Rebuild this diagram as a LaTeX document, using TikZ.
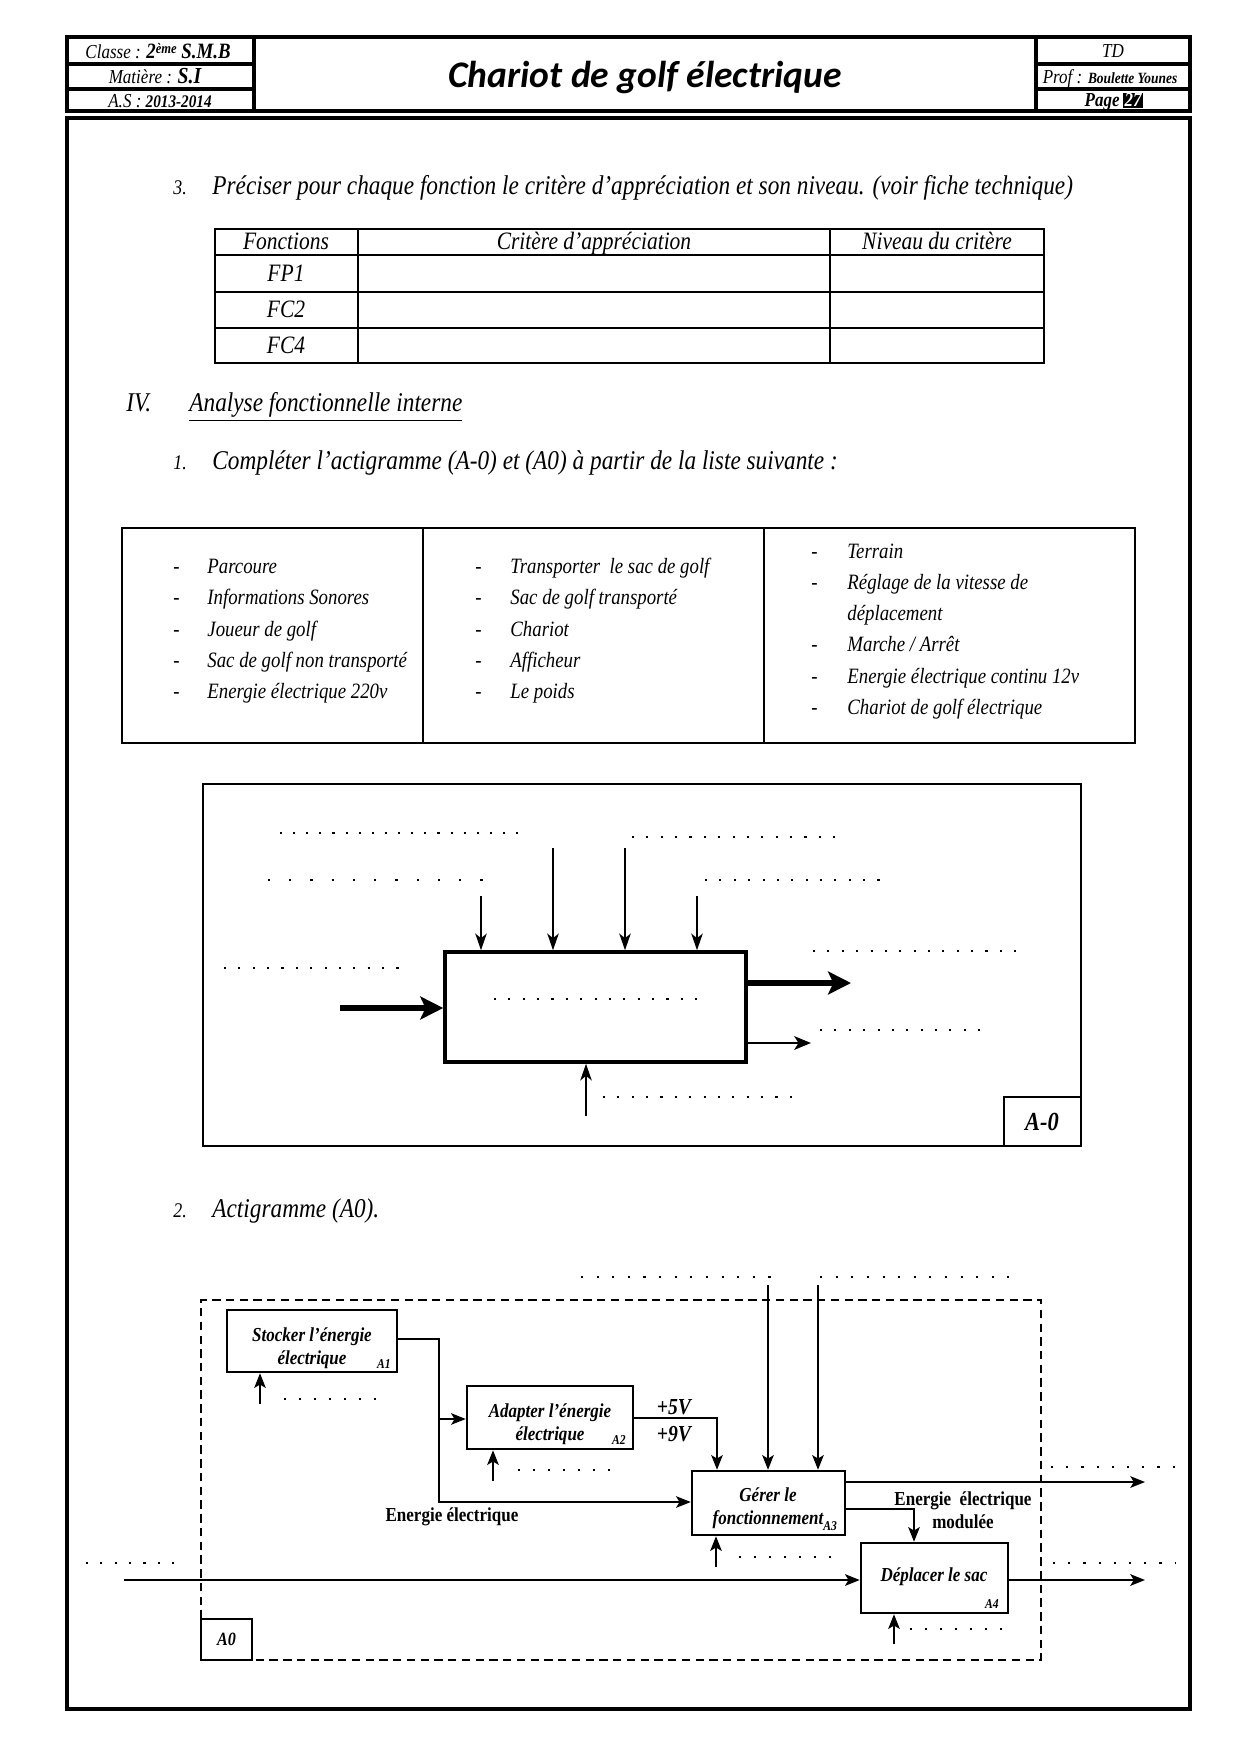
\documentclass[tikz,border=0pt]{standalone}
\usepackage{fontspec}
\setmainfont{Liberation Serif}
\newfontfamily\cond[FakeStretch=0.86]{Liberation Serif}
\newfontfamily\titlefont{Carlito}
\usetikzlibrary{arrows.meta,fit}
\begin{document}
\begin{tikzpicture}[x=0.4801pt,y=-0.4801pt,
  every node/.style={inner sep=0pt},
  txt/.style={font=\cond\itshape\fontsize{13}{15}\selectfont, anchor=base west},
  lst/.style={font=\cond\itshape\fontsize{10.5}{12}\selectfont, anchor=base west},
  tbtxt/.style={font=\cond\itshape\fontsize{12}{14}\selectfont, anchor=base},
  hdtxt/.style={font=\cond\itshape\fontsize{9.5}{11}\selectfont, anchor=base},
  hd/.style={line width=1.5pt},
  tbl/.style={line width=0.8pt},
  dotl/.style={line width=1pt, dash pattern=on 1pt off #1},
  dotl/.default=5.5pt,
  thinarr/.style={line width=0.7pt, -{Stealth[length=8pt,width=5.5pt,inset=2.2pt]}},
  fatarr/.style={line width=3pt, -{Stealth[length=11pt,width=11pt,inset=2.5pt]}},
  medarr/.style={line width=1.3pt, -{Stealth[length=8pt,width=6.5pt,inset=2pt]}},
  arr/.style={line width=1pt, -{Stealth[length=7pt,width=5.5pt,inset=1.6pt]}},
  fbox/.style={draw, line width=1.2pt, inner sep=0pt},
  lbl/.style={font=\cond\bfseries\itshape\fontsize{9.5}{11}\selectfont, align=center},
  elbl/.style={font=\cond\bfseries\fontsize{9.5}{11}\selectfont, align=center},
  tag/.style={font=\cond\bfseries\itshape\fontsize{6.5}{7}\selectfont},
]
\useasboundingbox (0,0) rectangle (1240,1754);
\fill[white] (0,0) rectangle (1240,1754);

% ---------------- header
\draw[hd] (67,37) rectangle (1190,111);
\draw[hd] (254,37) -- (254,111) (1036,37) -- (1036,111);
\draw[hd] (67,64) -- (254,64) (67,89) -- (254,89);
\draw[hd] (1036,64) -- (1190,64) (1036,89) -- (1190,89);
\node[hdtxt] (classe) at (158,59) {Classe : {\bfseries\fontsize{10.5}{12}\selectfont 2\raisebox{2.5pt}{\fontsize{7}{8}\selectfont ème} S.M.B}};
\node[hdtxt] (matiere) at (155,84) {Matière : {\bfseries\fontsize{11}{12}\selectfont S.I}};
\node[hdtxt] (as) at (160,108) {A.S : {\bfseries\fontsize{8.5}{10}\selectfont 2013-2014}};
\node[font=\titlefont\bfseries\itshape\fontsize{18}{20}\selectfont] (title) at (645,78) {Chariot de golf électrique};
\node[hdtxt] (td) at (1113,58) {TD};
\node[hdtxt] (prof) at (1110,84) {Prof : {\bfseries\fontsize{7.5}{9}\selectfont Boulette Younes}};
\node[hdtxt, anchor=base east, font=\cond\bfseries\itshape\fontsize{9.5}{11}\selectfont] (page) at (1120,107) {Page};
\node[anchor=base west, fill=black, text=white, inner sep=0.6pt, font=\cond\bfseries\itshape\fontsize{9.5}{11}\selectfont] (pgnum) at (1123,107) {27};

% ---------------- main frame
\draw[line width=1.7pt] (67,118) rectangle (1190,1709);

% ---------------- question 3
\node[txt] (q3n) at (173,195) {\fontsize{10}{12}\selectfont 3.};
\node[txt] (q3) at (212,195) {Préciser pour chaque fonction le critère d’appréciation et son niveau. (voir fiche technique)};

\draw[tbl] (215,229) rectangle (1044,363);
\draw[tbl] (358,229) -- (358,363) (830,229) -- (830,363);
\draw[tbl] (215,255) -- (1044,255) (215,292) -- (1044,292) (215,328) -- (1044,328);
\node[tbtxt] (h1) at (286,250) {Fonctions};
\node[tbtxt] (h2) at (594,250) {Critère d’appréciation};
\node[tbtxt] (h3) at (937,250) {Niveau du critère};
\node[tbtxt] (fp1) at (286,282) {FP1};
\node[tbtxt] (fc2) at (286,318) {FC2};
\node[tbtxt] (fc4) at (286,354) {FC4};

% ---------------- IV
\node[txt] (iv) at (126,412) {IV.};
\node[txt] (ivt) at (189,412) {\underline{Analyse fonctionnelle interne}};
\node[txt] (q1n) at (173,470) {\fontsize{10}{12}\selectfont 1.};
\node[txt] (q1) at (212,470) {Compléter l’actigramme (A-0) et (A0) à partir de la liste suivante :};

% ---------------- list
\draw[tbl] (122,528) rectangle (1135,743);
\draw[tbl] (423,528) -- (423,743) (764,528) -- (764,743);
\foreach \t [count=\i] in {Parcoure, Informations Sonores, Joueur de golf, Sac de golf non transporté, Energie électrique 220v}{
  \node[lst] (la\i) at (173,{542.2+31.3*\i}) {-};
  \node[lst] (a\i) at (207,{542.2+31.3*\i}) {\t};
}
\foreach \t [count=\i] in {Transporter\ \ le sac de golf, Sac de golf transporté, Chariot, Afficheur, Le poids}{
  \node[lst] (lb\i) at (475,{542.2+31.3*\i}) {-};
  \node[lst] (b\i) at (510,{542.2+31.3*\i}) {\t};
}
\foreach \t [count=\i] in {Terrain, Réglage de la vitesse de, déplacement, Marche / Arrêt, Energie électrique continu 12v, Chariot de golf électrique}{
  \node[lst] (c\i) at (847,{526.7+31.3*\i}) {\t};
}
\foreach \i in {1,2,4,5,6}{
  \node[lst] (lc\i) at (811,{526.7+31.3*\i}) {-};
}

% ---------------- actigramme A-0
\draw[line width=1pt] (203,784) rectangle (1081,1146);
\draw[line width=1pt] (1004,1097) rectangle (1081,1146);
\node[font=\cond\bfseries\itshape\fontsize{12.5}{14}\selectfont] (a0tag) at (1042,1122) {A-0};

\node[fit={(445,952) (746,1062)}, draw, line width=1.7pt] (A) {};
\coordinate (i1) at (481,896);
\coordinate (i2) at (553,848);
\coordinate (i3) at (625,848);
\coordinate (i4) at (697,896);
\foreach \k in {1,2,3,4}{ \draw[thinarr] (i\k) -- (i\k |- A.north); }
\coordinate (inp) at (340,1008);
\draw[fatarr] (inp) -- (inp -| A.west);
\coordinate (out1) at (851,983);
\draw[fatarr] (out1 -| A.east) -- (out1);
\coordinate (out2) at (811,1043);
\draw[medarr] (out2 -| A.east) -- (out2);
\coordinate (mec) at (586,1116);
\draw[thinarr] (mec) -- (mec |- A.south);

\draw[dotl=5.3pt] (280,833) -- (527,833);
\draw[dotl=9.2pt] (268,880) -- (483,880);
\draw[dotl=5.9pt] (632,837) -- (836,837);
\draw[dotl=5.9pt] (705,880) -- (880,880);
\draw[dotl=5.9pt] (224,968) -- (400,968);
\draw[dotl=5.9pt] (494,999) -- (698,999);
\draw[dotl=5.9pt] (813,951) -- (1017,951);
\draw[dotl=5.9pt] (820,1030) -- (980,1030);
\draw[dotl=5.9pt] (603,1097) -- (792,1097);

% ---------------- question 2
\node[txt] (q2n) at (173,1217) {\fontsize{10}{12}\selectfont 2.};
\node[txt] (q2) at (212,1217) {Actigramme (A0).};

% ---------------- A0
\draw[line width=1pt, dash pattern=on 4pt off 2.6pt] (201,1660) -- (201,1300) -- (1041,1300) -- (1041,1660) -- cycle;
\node[fit={(201,1619) (252,1660)}, draw, line width=0.9pt, fill=white] (a0box) {};
\node[font=\cond\bfseries\itshape\fontsize{9}{10}\selectfont] (a0lbl) at (a0box.center) {A0};

\node[fit={(227,1310) (397,1372)}, fbox] (A1) {};
\node[lbl] (A1t) at (312,1348) {Stocker l’énergie\\électrique};
\node[tag] (A1n) at (384,1364) {A1};

\node[fit={(467,1386) (633,1449)}, fbox] (A2) {};
\node[lbl] (A2t) at (550,1424) {Adapter l’énergie\\électrique};
\node[tag] (A2n) at (619,1440) {A2};

\node[fit={(692,1471) (845,1535)}, fbox] (A3) {};
\node[lbl] (A3t) at (768,1509) {Gérer le\\fonctionnement\rlap{\raisebox{-3pt}{\fontsize{6.5}{7}\selectfont A3}}};

\node[fit={(861,1543) (1008,1613)}, fbox] (A4) {};
\node[lbl] (A4t) at (934,1577) {Déplacer le sac};
\node[tag] (A4n) at (992,1604) {A4};

% A1 -> A2, A3
\coordinate (j1) at (439,1339);
\coordinate (j2) at (439,1419);
\coordinate (j3) at (439,1502);
\draw[arr] (A1.east |- j1) -- (j1) -- (j2) -- (j2 -| A2.west);
\draw[arr] (j2) -- (j3) -- (j3 -| A3.west);
\node[elbl] (ee) at (452,1517) {Energie électrique};

% A2 -> A3
\coordinate (k1) at (717,1418);
\draw[arr] (A2.east |- k1) -- (k1) -- (k1 |- A3.north);
\node[lbl, font=\cond\bfseries\itshape\fontsize{11}{12}\selectfont] (v5) at (674,1407) {+5V};
\node[lbl, font=\cond\bfseries\itshape\fontsize{11}{12}\selectfont] (v9) at (674,1434) {+9V};

% controls A3
\coordinate (c1) at (768,1285);
\coordinate (c2) at (818,1285);
\draw[arr] (c1) -- (c1 |- A3.north);
\draw[arr] (c2) -- (c2 |- A3.north);
\draw[dotl=6.5pt] (581,1277) -- (771,1277);
\draw[dotl=6.5pt] (820,1277) -- (1009,1277);

% A3 outputs
\coordinate (o1) at (1145,1482);
\draw[arr] (A3.east |- o1) -- (o1);
\draw[dotl=6.3pt] (1051,1467) -- (1175,1467);
\coordinate (m1) at (914,1509);
\draw[arr] (A3.east |- m1) -- (m1) -- (m1 |- A4.north);
\node[elbl] (eem) at (963,1510) {Energie\ \ électrique\\modulée};

% main flow
\coordinate (f0) at (124,1580);
\coordinate (f1) at (1145,1580);
\draw[arr, line width=1.4pt] (f0) -- (f0 -| A4.west);
\draw[arr, line width=1.4pt] (A4.east |- f1) -- (f1);
\draw[dotl=5.9pt] (86,1563) -- (184,1563);
\draw[dotl=6.3pt] (1053,1563) -- (1175,1563);

% mechanisms
\coordinate (u1) at (260,1404);
\draw[arr] (u1) -- (u1 |- A1.south);
\draw[dotl=6.2pt] (284,1399) -- (388,1399);
\coordinate (u2) at (493,1481);
\draw[arr] (u2) -- (u2 |- A2.south);
\draw[dotl=6.2pt] (518,1470) -- (620,1470);
\coordinate (u3) at (716,1567);
\draw[arr] (u3) -- (u3 |- A3.south);
\draw[dotl=6.2pt] (739,1557) -- (840,1557);
\coordinate (u4) at (894,1644);
\draw[arr] (u4) -- (u4 |- A4.south);
\draw[dotl=6.2pt] (910,1629) -- (1014,1629);
\end{tikzpicture}
\end{document}
